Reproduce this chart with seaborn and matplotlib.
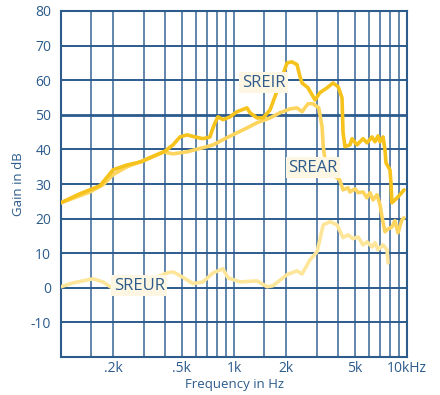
import pandas as pd
import numpy as np
from matplotlib import pyplot as plt
import seaborn as sns

# frequency (Hz) / gain (dB)
sreir_hz = [100, 129, 168, 200, 241, 290, 394, 444, 487, 535, 595, 662, 726, 756, 777, 808,
            864, 948, 1041, 1189, 1237, 1358, 1471, 1615, 1845, 2025, 2164, 2313, 2407, 2473,
            2678, 2940, 3140, 3450, 3735, 4000, 4210, 4270, 4380, 4680, 4810, 5140, 5570,
            5870, 6280, 6530, 6800, 6980, 7270, 7460, 7560, 7970, 8080, 8180, 8520, 9110, 9610]
sreir_db = [24.6, 27.2, 29.5, 34.1, 35.5, 36.4, 39.3, 41.3, 43.6, 44.2, 43.6, 43.1, 43.6, 46.2,
            47.7, 49.4, 48.6, 49.4, 50.9, 52.0, 50.6, 49.1, 49.1, 51.4, 59.2, 65.0, 65.3, 64.5,
            61.0, 59.2, 57.8, 54.3, 56.4, 57.8, 59.2, 58.1, 54.9, 44.8, 40.8, 41.3, 43.1, 41.3,
            43.1, 41.9, 43.6, 42.2, 43.9, 42.2, 43.6, 39.9, 36.1, 34.1, 30.3, 24.6, 25.4, 26.9,
            28.3]

srear_hz = [100, 124, 147, 175, 200, 241, 286, 389, 444, 535, 698, 756, 911, 1041, 1189,
            1358, 1615, 1845, 2107, 2313, 2473, 2678, 2860, 3090, 3230, 3280, 3360, 3500,
            3735, 4080, 4270, 4560, 4680, 5010, 5210, 5570, 5870, 6110, 6360, 6710, 6980,
            7170, 7460, 7660, 8180, 8520, 8870, 9360, 9610]
srear_db = [24.6, 26.3, 27.7, 29.8, 32.7, 35.0, 36.4, 39.3, 38.7, 39.3, 40.8, 41.3, 43.4,
            44.8, 46.2, 47.7, 49.1, 50.6, 51.7, 52.0, 50.9, 53.2, 53.2, 52.0, 46.5, 40.8,
            37.0, 34.1, 32.7, 31.2, 28.3, 28.9, 27.7, 28.6, 27.5, 27.7, 26.0, 27.5, 25.4,
            26.9, 24.0, 20.5, 16.2, 16.8, 17.6, 19.4, 15.9, 19.7, 20.2]

sreur_hz = [100, 117, 153, 175, 197, 286, 410, 444, 501, 579, 662, 756, 864, 922, 1083,
            1358, 1552, 1680, 2025, 2313, 2473, 2750, 3020, 3280, 3590, 3940, 4270, 4560,
            4870, 5210, 5570, 5870, 6280, 6530, 6800, 7270, 7660, 7770]
sreur_db = [0.3, 1.4, 2.6, 1.7, 0.0, 0.9, 4.3, 4.6, 3.2, 1.2, 1.7, 4.3, 5.5, 2.9, 1.7,
            2.0, 0.3, 0.6, 3.8, 4.9, 4.0, 8.1, 10.4, 18.2, 19.1, 18.2, 14.5, 15.3, 14.2,
            14.7, 12.4, 13.3, 11.8, 13.0, 11.0, 12.4, 11.0, 7.2]

series_names = ["SREUR", "SREAR", "SREIR"]
label_pos = {"SREIR": (1480, 59.2), "SREAR": (2860, 34.7), "SREUR": (283, 0.6)}

x_ticks = [200, 500, 1000, 2000, 5000, 10000]
x_ticklabels = [".2k", ".5k", "1k", "2k", "5k", "10kHz"]
x_grid = [150, 200, 300, 400, 500, 600, 700, 800, 900, 1000, 1500, 2000, 3000, 4000,
          5000, 6000, 7000, 8000, 9000]
y_ticks = list(range(-10, 81, 10))

df = pd.concat([
    pd.DataFrame({"freq": sreur_hz, "gain": sreur_db, "series": "SREUR"}),
    pd.DataFrame({"freq": srear_hz, "gain": srear_db, "series": "SREAR"}),
    pd.DataFrame({"freq": sreir_hz, "gain": sreir_db, "series": "SREIR"}),
])

sns.set_style("white")
plt.rcParams['font.family'] = ['Open Sans', 'DejaVu Sans']
plt.rcParams['axes.unicode_minus'] = False

blue = "#2c5b8c"
palette = {"SREUR": "#fde699", "SREAR": "#fcd45e", "SREIR": "#f6c21c"}

fig = plt.figure(figsize=(4.4, 3.95), dpi=100)
ax = fig.add_axes([61 / 440, 1 - 357 / 395, 346 / 440, 346 / 395])
ax.set_xscale("log")
ax.set_xlim(100, 10000)
ax.set_ylim(-20, 80)

for xv in x_grid:
    ax.axvline(xv, color="#45719e", lw=1.2, zorder=1)
for yv in range(-10, 80, 10):
    ax.axhline(yv, color=blue, lw=2.0 if yv == 50 else 1.4, zorder=1)

sns.lineplot(data=df, x="freq", y="gain", hue="series", palette=palette, sort=False,
             estimator=None, lw=2.6, legend=False, ax=ax, zorder=3)

for name in series_names:
    x, y = label_pos[name]
    ax.text(x, y, name, color=blue, fontsize=12, ha="center", va="center", zorder=4,
            bbox=dict(boxstyle="square,pad=0.15", fc="#fdf6e2", ec="none"))

ax.set_xticks(x_ticks)
ax.set_xticklabels(x_ticklabels)
ax.minorticks_off()
ax.set_yticks(y_ticks)
ax.tick_params(colors=blue, labelsize=10, length=0)
ax.tick_params(axis="y", pad=7)
ax.tick_params(axis="x", pad=3)
for lab in ax.get_xticklabels() + ax.get_yticklabels():
    lab.set_color(blue)
for sp in ax.spines.values():
    sp.set_color(blue)
    sp.set_linewidth(1.5)

ax.set_xlabel("Frequency in Hz", color=blue, fontsize=9.5, labelpad=1)
ax.set_ylabel("Gain in dB", color=blue, fontsize=9.5, labelpad=4)

fig.savefig("out.png", dpi=100)
